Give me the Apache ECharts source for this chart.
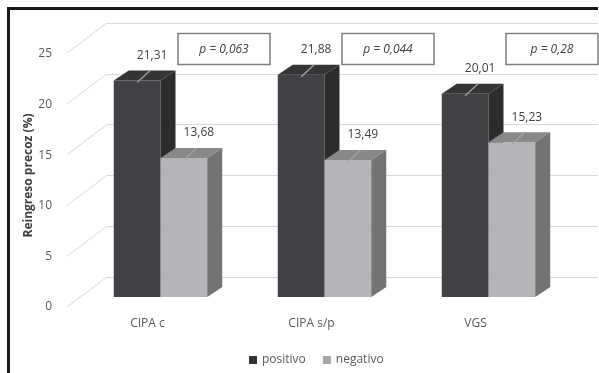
<!DOCTYPE html>
<html>
<head>
<meta charset="utf-8">
<script src="https://cdn.jsdelivr.net/npm/echarts@6/dist/echarts.min.js"></script>
<style>
html,body{margin:0;padding:0;background:#fff;}
#c{width:599px;height:373px;}
</style>
</head>
<body>
<div id="c"></div>
<script>
const categories = ['CIPA c', 'CIPA s/p', 'VGS'];
const positivo = [21.31, 21.88, 20.01];
const negativo = [13.68, 13.49, 15.23];
const pValues = ['p = 0,063', 'p = 0,044', 'p = 0,28'];
const yTicks = [0, 5, 10, 15, 20, 25];
const seriesNames = ['positivo', 'negativo'];

const FONT = "'Open Sans', sans-serif";
const chart = echarts.init(document.getElementById('c'), null, {renderer: 'canvas'});

const colors = {
  positivo: {front: '#414245', top: '#353535', side: '#2c2c2c', legend: '#333333'},
  negativo: {front: '#b3b4b7', top: '#888888', side: '#737373', legend: '#a6a6a6'}
};
const DX = 15, DY = 10;

function makeBar(name, leftSide) {
  const c = colors[name];
  return function (params, api) {
    const cat = api.value(0), val = api.value(1);
    const top = api.coord([cat, val]);
    const base = api.coord([cat, 0]);
    const band = api.size([1, 0])[0];
    const w = band * 0.285;
    const x0 = leftSide ? top[0] - w : top[0];
    const x1 = x0 + w;
    const ty = top[1], by = base[1];
    const cx = (x0 + x1) / 2;
    return {
      type: 'group',
      children: [
        {type: 'rect', shape: {x: x0, y: ty, width: w, height: by - ty}, style: {fill: c.front}},
        {type: 'polygon', shape: {points: [[x0, ty], [x1, ty], [x1 + DX, ty - DY], [x0 + DX, ty - DY]]}, style: {fill: c.top}},
        {type: 'polygon', shape: {points: [[x1, ty], [x1 + DX, ty - DY], [x1 + DX, by - DY], [x1, by]]}, style: {fill: c.side}},
        {type: 'line', shape: {x1: cx, y1: ty + 2, x2: cx + 13, y2: ty - 10}, style: {stroke: '#a5a5a5', lineWidth: 1.2}},
        {type: 'text', style: {x: cx + 15, y: ty - 25, text: val.toFixed(2).replace('.', ','),
          fill: '#404040', font: '12px ' + FONT, align: 'center', verticalAlign: 'middle',
          textAlign: 'center', textVerticalAlign: 'middle'}}
      ]
    };
  };
}

const option = {
  animation: false,
  textStyle: {fontFamily: FONT},
  legend: {
    data: seriesNames,
    left: 244, top: 349,
    itemWidth: 8, itemHeight: 8, itemGap: 17,
    icon: 'rect',
    textStyle: {fontSize: 12, color: '#595959', fontFamily: FONT}
  },
  graphic: [
    {type: 'line', shape: {x1: 7, y1: 8.5, x2: 598, y2: 8.5}, style: {stroke: '#1a1a1a', lineWidth: 3}},
    {type: 'line', shape: {x1: 8.5, y1: 7, x2: 8.5, y2: 373}, style: {stroke: '#1a1a1a', lineWidth: 3}}
  ],
  grid: [
    {left: 107, right: 1, top: 23, bottom: 96},
    {left: 67, width: 10, top: 54, bottom: 66},
    {left: 78.5, width: 492, top: 43, bottom: 76},
    {left: 65.5, width: 492, top: 200, bottom: 66}
  ],
  xAxis: [
    {gridIndex: 0, type: 'value', min: 0, max: 1, show: false},
    {gridIndex: 1, type: 'value', min: 0, max: 1, show: false},
    {gridIndex: 2, type: 'category', data: categories, show: false},
    {gridIndex: 3, type: 'category', data: categories, axisLine: {show: false}, axisTick: {show: false},
      axisLabel: {margin: 11, fontSize: 12, color: '#595959', fontFamily: FONT}}
  ],
  yAxis: [
    {gridIndex: 0, type: 'value', min: 0, max: 25, interval: 5, axisLabel: {show: false},
      axisLine: {show: false}, axisTick: {show: false}, splitLine: {show: true, lineStyle: {color: '#d9d9d9', width: 1}}},
    {gridIndex: 1, type: 'value', min: 0, max: 25, interval: 5,
      axisLine: {show: false}, axisTick: {show: false}, splitLine: {show: false},
      axisLabel: {margin: 15, fontSize: 12, color: '#595959', fontFamily: FONT},
      name: 'Reingreso precoz (%)', nameLocation: 'middle', nameGap: 32,
      nameTextStyle: {fontSize: 12, fontWeight: 'bold', color: '#404040', fontFamily: FONT, padding: [0, 0, 0, 10]}},
    {gridIndex: 2, type: 'value', min: 0, max: 25, show: false},
    {gridIndex: 3, type: 'value', show: false}
  ],
  series: [
    {
      name: 'diag', type: 'custom', xAxisIndex: 0, yAxisIndex: 0, silent: true,
      data: yTicks.map(v => [0, v]),
      renderItem: function (params, api) {
        const p = api.coord([0, api.value(1)]);
        return {type: 'line', shape: {x1: p[0], y1: p[1], x2: p[0] - 40, y2: p[1] + 30},
          style: {stroke: '#d9d9d9', lineWidth: 1}};
      }
    },
    {
      name: 'positivo', type: 'custom', xAxisIndex: 2, yAxisIndex: 2,
      itemStyle: {color: colors.positivo.legend},
      data: positivo.map((v, i) => [i, v]),
      renderItem: makeBar('positivo', true)
    },
    {
      name: 'negativo', type: 'custom', xAxisIndex: 2, yAxisIndex: 2,
      itemStyle: {color: colors.negativo.legend},
      data: negativo.map((v, i) => [i, v]),
      renderItem: makeBar('negativo', false)
    },
    {
      name: 'pvals', type: 'custom', xAxisIndex: 2, yAxisIndex: 2, silent: true,
      data: pValues.map((p, i) => [i, 24.4]),
      renderItem: function (params, api) {
        const i = api.value(0);
        const c = api.coord([i, api.value(1)]);
        const cx = c[0] + 63.5, cy = c[1];
        return {type: 'group', children: [
          {type: 'rect', shape: {x: cx - 46, y: cy - 15.5, width: 92, height: 31},
            style: {fill: '#ffffff', stroke: '#7f7f7f', lineWidth: 1.5}},
          {type: 'text', style: {x: cx, y: cy, text: pValues[i], fill: '#404040',
            font: 'italic 12px ' + FONT, align: 'center', verticalAlign: 'middle',
            textAlign: 'center', textVerticalAlign: 'middle'}}
        ]};
      }
    }
  ]
};
chart.setOption(option);
</script>
</body>
</html>
